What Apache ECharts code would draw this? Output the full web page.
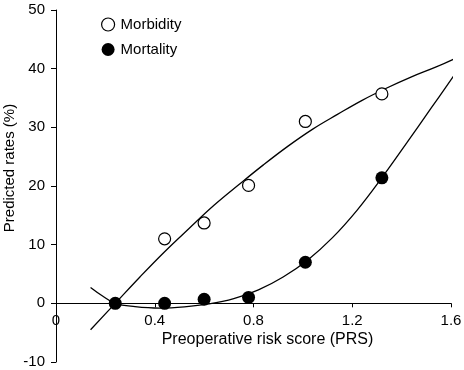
<!DOCTYPE html>
<html>
<head>
<meta charset="utf-8">
<script src="https://cdn.jsdelivr.net/npm/echarts@6/dist/echarts.min.js"></script>
<style>
  html, body { margin: 0; padding: 0; background: #fff; }
  #chart { width: 464px; height: 370px; }
</style>
</head>
<body>
<div id="chart"></div>
<script>
const morbidityX = [0.44, 0.60, 0.78, 1.01, 1.32];
const morbidity = [11.0, 13.7, 20.1, 31.0, 35.7];
const mortalityX = [0.24, 0.44, 0.60, 0.78, 1.01, 1.32];
const mortality = [0.0, 0.0, 0.7, 1.0, 7.0, 21.4];

// fitted curves, sampled from the figure
const morbFitX = [0.14, 0.24, 0.34, 0.44, 0.54, 0.64, 0.74, 0.84, 0.94, 1.04, 1.14, 1.24, 1.34, 1.44, 1.54, 1.62];
const morbFit = [-4.5, 0.0, 4.5, 8.8, 12.8, 16.7, 20.2, 23.6, 26.8, 29.7, 32.2, 34.6, 36.7, 38.6, 40.3, 41.8];
const mortFitX = [0.14, 0.19, 0.24, 0.32, 0.42, 0.52, 0.62, 0.72, 0.82, 0.92, 1.02, 1.12, 1.22, 1.32, 1.42, 1.52, 1.62];
const mortFit = [2.7, 1.2, 0.0, -0.55, -0.8, -0.6, -0.1, 0.8, 2.3, 4.5, 7.4, 11.2, 15.9, 21.4, 27.3, 33.3, 39.3];

const xTicks = [0, 0.4, 0.8, 1.2, 1.6];
const yTicks = [-10, 0, 10, 20, 30, 40, 50];

const FONT = "'Liberation Sans', Arial, sans-serif";
const zip = (xs, ys) => xs.map((x, i) => [x, ys[i]]);

const W = 464, H = 370;
const grid = { left: 56, right: 13, top: 10, bottom: 8 };
const yMin = yTicks[0], yMax = yTicks[yTicks.length - 1];
// x axis sits on y = 0
const zeroOffset = -((0 - yMin) / (yMax - yMin)) * (H - grid.top - grid.bottom);

const chart = echarts.init(document.getElementById('chart'));

chart.setOption({
  animation: false,
  backgroundColor: '#fff',
  grid: Object.assign({ outerBoundsMode: 'none', containLabel: false }, grid),
  legend: {
    orient: 'vertical',
    left: 101,
    top: 17,
    padding: 0,
    itemWidth: 15,
    itemHeight: 13,
    itemGap: 10,
    icon: 'circle',
    textStyle: { fontFamily: FONT, fontSize: 15, color: '#000' },
    data: [
      { name: 'Morbidity', itemStyle: { color: '#fff', borderColor: '#000', borderWidth: 1.2 } },
      { name: 'Mortality', itemStyle: { color: '#000' } }
    ]
  },
  xAxis: {
    type: 'value',
    min: xTicks[0],
    max: xTicks[xTicks.length - 1],
    interval: 0.4,
    position: 'bottom',
    offset: zeroOffset,
    splitLine: { show: false },
    axisLine: { onZero: false, lineStyle: { color: '#000', width: 1 } },
    axisTick: { show: true, length: 4, lineStyle: { color: '#000' } },
    axisLabel: {
      margin: 10,
      fontFamily: FONT, fontSize: 15, color: '#000',
      formatter: v => String(Math.round(v * 10) / 10)
    }
  },
  yAxis: {
    type: 'value',
    min: yMin,
    max: yMax,
    interval: 10,
    splitLine: { show: false },
    axisLine: { show: true, lineStyle: { color: '#000', width: 1 } },
    axisTick: { show: true, length: 5, lineStyle: { color: '#000' } },
    axisLabel: { margin: 11, fontFamily: FONT, fontSize: 15, color: '#000' }
  },
  graphic: [
    {
      type: 'text',
      x: 9.5, y: 168,
      rotation: Math.PI / 2,
      style: {
        text: 'Predicted rates (%)',
        font: '15px ' + FONT,
        fill: '#000',
        align: 'center',
        verticalAlign: 'middle'
      }
    },
    {
      type: 'text',
      x: 267.5, y: 340,
      style: {
        text: 'Preoperative risk score (PRS)',
        font: '16px ' + FONT,
        fill: '#000',
        align: 'center',
        verticalAlign: 'middle'
      }
    }
  ],
  series: [
    {
      name: 'Morbidity fit',
      type: 'line',
      data: zip(morbFitX, morbFit),
      smooth: 0.4,
      showSymbol: false,
      clip: false,
      silent: true,
      lineStyle: { color: '#000', width: 1.3 },
      z: 2
    },
    {
      name: 'Mortality fit',
      type: 'line',
      data: zip(mortFitX, mortFit),
      smooth: 0.4,
      showSymbol: false,
      clip: false,
      silent: true,
      lineStyle: { color: '#000', width: 1.3 },
      z: 2
    },
    {
      name: 'Morbidity',
      type: 'scatter',
      data: zip(morbidityX, morbidity),
      symbol: 'circle',
      symbolSize: 12,
      itemStyle: { color: '#fff', borderColor: '#000', borderWidth: 1.2, opacity: 1 },
      z: 4
    },
    {
      name: 'Mortality',
      type: 'scatter',
      data: zip(mortalityX, mortality),
      symbol: 'circle',
      symbolSize: 13,
      itemStyle: { color: '#000', opacity: 1 },
      z: 5
    }
  ]
});
</script>
</body>
</html>
